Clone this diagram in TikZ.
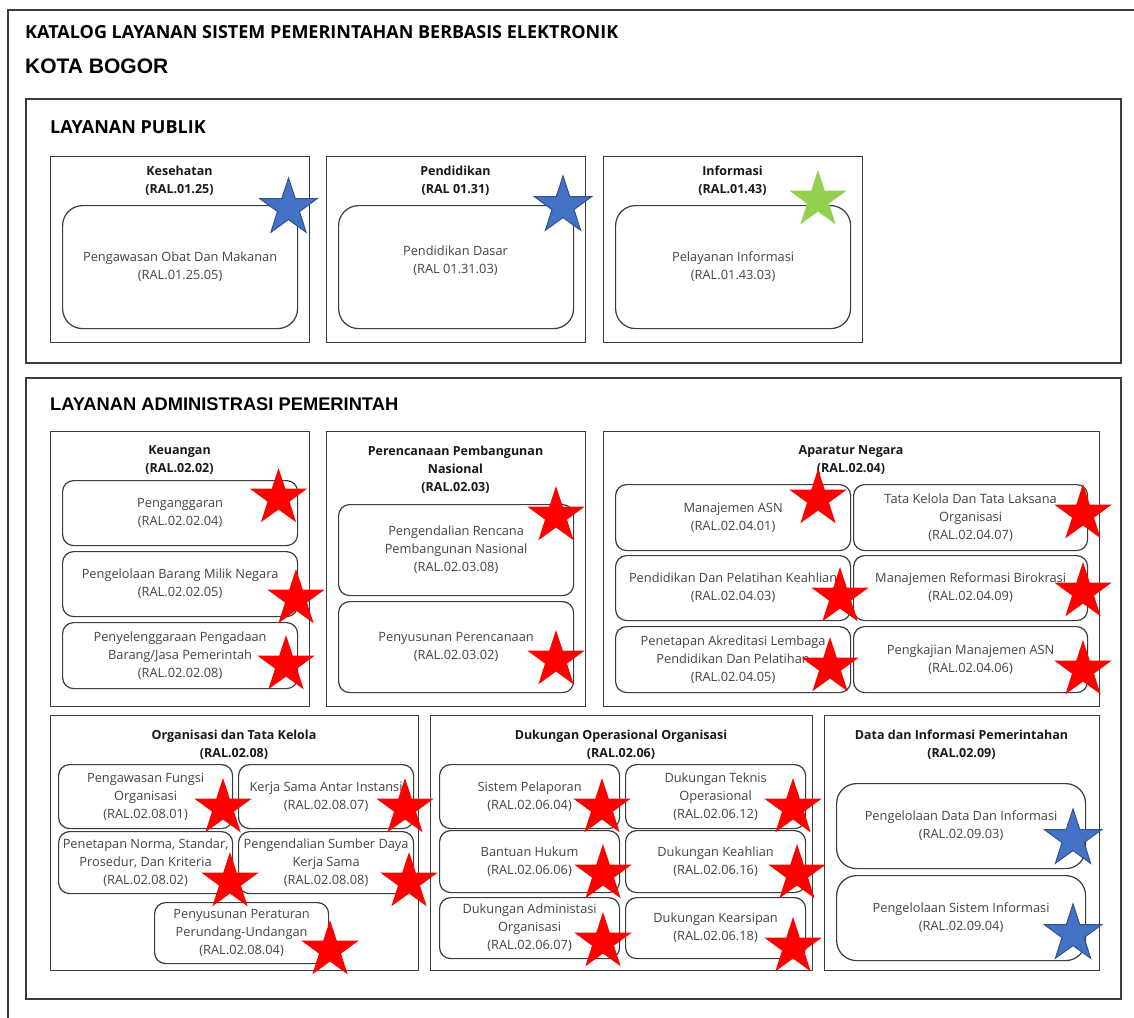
\documentclass[tikz,border=0pt]{standalone}
\usepackage{fontspec}
\setmainfont{Open Sans}
\newfontfamily\headfont{Liberation Sans}
\usetikzlibrary{shapes.geometric}

\definecolor{linegray}{HTML}{3C3C3C}
\definecolor{textgray}{HTML}{444444}
\definecolor{starblue}{HTML}{4472C4}
\definecolor{starblueedge}{HTML}{2F528F}
\definecolor{stargreen}{HTML}{92D050}
\definecolor{starred}{HTML}{FF0000}

% rectangle node from its top-left (x1,y1) to bottom-right (x2,y2)
\newcommand\boxnode[7]{%
  \node[#1, anchor=north west, minimum width={#5-#3}, minimum height={#6-#4}]
    (#2) at (#3,#4) {#7};}

\begin{document}
\begin{tikzpicture}[x=1pt, y=-1pt,
  outerframe/.style={draw=linegray, line width=1.8},
  section/.style={draw=linegray, line width=1.6, inner sep=0},
  panel/.style={draw=linegray, line width=1.3, inner sep=0},
  cardtext/.style={align=center, text=textgray, font=\fontsize{12.8}{18}\selectfont},
  card/.style={cardtext, draw=linegray, line width=1.2, rounded corners=11, inner sep=0},
  bigcard/.style={card, rounded corners=20},
  paneltitle/.style={align=center, inner sep=0, text=black!90,
    font=\fontsize{12.5}{18}\selectfont\bfseries},
  starbase/.style={star, star points=5, star point ratio=2.6, minimum size=60, inner sep=0},
  redstar/.style={starbase, fill=starred},
  bluestar/.style={starbase, fill=starblue, draw=starblueedge, line width=1},
  greenstar/.style={starbase, fill=stargreen},
]
\useasboundingbox (0,0) rectangle (1134,1017);
\fill[white] (0,0) rectangle (1134,1017);

% page frame and headings
\draw[outerframe] (8,10) rectangle (1150,1040);
\node[anchor=west, inner sep=0, font=\fontsize{18}{20}\selectfont\bfseries] (title)
  at (25,32) {KATALOG LAYANAN SISTEM PEMERINTAHAN BERBASIS ELEKTRONIK};
\node[anchor=west, inner sep=0, font=\headfont\fontsize{21}{24}\selectfont\bfseries] (city)
  at (25,66) {KOTA BOGOR};

% ---------------- public services ----------------
\boxnode{section}{pub}{25}{98}{1120}{362}{}
\node[anchor=west, inner sep=0, font=\fontsize{18}{20}\selectfont\bfseries] (pub-t)
  at (50,127) {LAYANAN PUBLIK};

\boxnode{panel}{kes}{50}{156}{309}{342}{}
\node[paneltitle] (kes-t) at (179.5,181) {Kesehatan\\(RAL.01.25)};
\boxnode{bigcard}{kes-a}{62}{205}{297}{328}{Pengawasan Obat Dan Makanan\\(RAL.01.25.05)}

\boxnode{panel}{pen}{326}{156}{585}{342}{}
\node[paneltitle] (pen-t) at (455.5,181) {Pendidikan\\(RAL 01.31)};
\boxnode{bigcard}{pen-a}{338}{205}{573}{328}{}
\node[cardtext, inner sep=0] (pen-a-txt) at (455.5,261) {Pendidikan Dasar\\(RAL 01.31.03)};

\boxnode{panel}{inf}{603}{156}{862}{342}{}
\node[paneltitle] (inf-t) at (732.5,181) {Informasi\\(RAL.01.43)};
\boxnode{bigcard}{inf-a}{615}{205}{850}{328}{Pelayanan Informasi\\(RAL.01.43.03)}

% ---------------- government administration ----------------
\boxnode{section}{adm}{25}{377}{1120}{998}{}
\node[anchor=west, inner sep=0, font=\headfont\fontsize{18.3}{22}\selectfont\bfseries] (adm-t)
  at (50,404) {LAYANAN ADMINISTRASI PEMERINTAH};

% Keuangan
\boxnode{panel}{keu}{50}{431}{309}{706}{}
\node[paneltitle] (keu-t) at (179.5,460) {Keuangan\\(RAL.02.02)};
\boxnode{card}{keu-a}{62}{480}{297}{545}{Penganggaran\\(RAL.02.02.04)}
\boxnode{card}{keu-b}{62}{551}{297}{616}{Pengelolaan Barang Milik Negara\\(RAL.02.02.05)}
\boxnode{card}{keu-c}{62}{622}{297}{688}{Penyelenggaraan Pengadaan\\Barang/Jasa Pemerintah\\(RAL.02.02.08)}

% Perencanaan Pembangunan Nasional
\boxnode{panel}{ren}{326}{431}{585}{706}{}
\node[paneltitle] (ren-t) at (455.5,470) {Perencanaan Pembangunan\\Nasional\\(RAL.02.03)};
\boxnode{card}{ren-a}{338}{504}{573}{595}{Pengendalian Rencana\\Pembangunan Nasional\\(RAL.02.03.08)}
\boxnode{card}{ren-b}{338}{601}{573}{692}{Penyusunan Perencanaan\\(RAL.02.03.02)}

% Aparatur Negara
\boxnode{panel}{apa}{603}{431}{1099}{706}{}
\node[paneltitle] (apa-t) at (851,460) {Aparatur Negara\\(RAL.02.04)};
\boxnode{card}{apa-a}{615}{484}{850}{550}{Manajemen ASN\\(RAL.02.04.01)}
\boxnode{card}{apa-b}{853}{484}{1087}{550}{Tata Kelola Dan Tata Laksana\\Organisasi\\(RAL.02.04.07)}
\boxnode{card}{apa-c}{615}{555}{850}{620}{Pendidikan Dan Pelatihan Keahlian\\(RAL.02.04.03)}
\boxnode{card}{apa-d}{853}{555}{1087}{620}{Manajemen Reformasi Birokrasi\\(RAL.02.04.09)}
\boxnode{card}{apa-e}{615}{626}{850}{692}{Penetapan Akreditasi Lembaga\\Pendidikan Dan Pelatihan\\(RAL.02.04.05)}
\boxnode{card}{apa-f}{853}{626}{1087}{692}{Pengkajian Manajemen ASN\\(RAL.02.04.06)}

% Organisasi dan Tata Kelola
\boxnode{panel}{org}{50}{715}{418}{970}{}
\node[paneltitle] (org-t) at (234,745) {Organisasi dan Tata Kelola\\(RAL.02.08)};
\boxnode{card}{org-a}{58}{764}{232}{828}{Pengawasan Fungsi\\Organisasi\\(RAL.02.08.01)}
\boxnode{card}{org-b}{238}{764}{413}{828}{Kerja Sama Antar Instansi\\(RAL.02.08.07)}
\boxnode{card}{org-c}{58}{831}{232}{893}{Penetapan Norma, Standar,\\Prosedur, Dan Kriteria\\(RAL.02.08.02)}
\boxnode{card}{org-d}{238}{831}{413}{893}{Pengendalian Sumber Daya\\Kerja Sama\\(RAL.02.08.08)}
\boxnode{card}{org-e}{154}{902}{328}{963}{Penyusunan Peraturan\\Perundang-Undangan\\(RAL.02.08.04)}

% Dukungan Operasional Organisasi
\boxnode{panel}{duk}{430}{715}{812}{970}{}
\node[paneltitle] (duk-t) at (621,745) {Dukungan Operasional Organisasi\\(RAL.02.06)};
\boxnode{card}{duk-a}{439}{764}{619}{828}{Sistem Pelaporan\\(RAL.02.06.04)}
\boxnode{card}{duk-b}{625}{764}{805}{828}{Dukungan Teknis\\Operasional\\(RAL.02.06.12)}
\boxnode{card}{duk-c}{439}{830}{619}{892}{Bantuan Hukum\\(RAL.02.06.06)}
\boxnode{card}{duk-d}{625}{830}{805}{892}{Dukungan Keahlian\\(RAL.02.06.16)}
\boxnode{card}{duk-e}{439}{897}{619}{958}{Dukungan Administasi\\Organisasi\\(RAL.02.06.07)}
\boxnode{card}{duk-f}{625}{897}{805}{958}{Dukungan Kearsipan\\(RAL.02.06.18)}

% Data dan Informasi Pemerintahan
\boxnode{panel}{dat}{824}{715}{1099}{970}{}
\node[paneltitle] (dat-t) at (961.5,745) {Data dan Informasi Pemerintahan\\(RAL.02.09)};
\boxnode{bigcard}{dat-a}{836}{783}{1085}{868}{Pengelolaan Data Dan Informasi\\(RAL.02.09.03)}
\boxnode{bigcard}{dat-b}{836}{875}{1085}{960}{Pengelolaan Sistem Informasi\\(RAL.02.09.04)}

% ---------------- status stars ----------------
\node[bluestar]  (s-kes) at (288.5,208) {};
\node[bluestar]  (s-pen) at (563,206) {};
\node[greenstar] (s-inf) at (818,200) {};

\node[redstar] (s-keu-a) at (278.5,498) {};
\node[redstar] (s-keu-b) at (296,599) {};
\node[redstar] (s-keu-c) at (286,665) {};
\node[redstar] (s-ren-a) at (556,516) {};
\node[redstar] (s-ren-b) at (556,660) {};
\node[redstar] (s-apa-a) at (818,499) {};
\node[redstar] (s-apa-b) at (1083,514) {};
\node[redstar] (s-apa-c) at (840,597) {};
\node[redstar] (s-apa-d) at (1083,592) {};
\node[redstar] (s-apa-e) at (830,667) {};
\node[redstar] (s-apa-f) at (1083,670) {};

\node[redstar] (s-org-a) at (223,808) {};
\node[redstar] (s-org-b) at (405,808) {};
\node[redstar] (s-org-c) at (230,882) {};
\node[redstar] (s-org-d) at (409,882) {};
\node[redstar] (s-org-e) at (330,950) {};

\node[redstar] (s-duk-a) at (602,808) {};
\node[redstar] (s-duk-b) at (793,808) {};
\node[redstar] (s-duk-c) at (603,874) {};
\node[redstar] (s-duk-d) at (797,874) {};
\node[redstar] (s-duk-e) at (603,942) {};
\node[redstar] (s-duk-f) at (793,947) {};

\node[bluestar] (s-dat-a) at (1073,839) {};
\node[bluestar] (s-dat-b) at (1073,934) {};
\end{tikzpicture}
\end{document}
